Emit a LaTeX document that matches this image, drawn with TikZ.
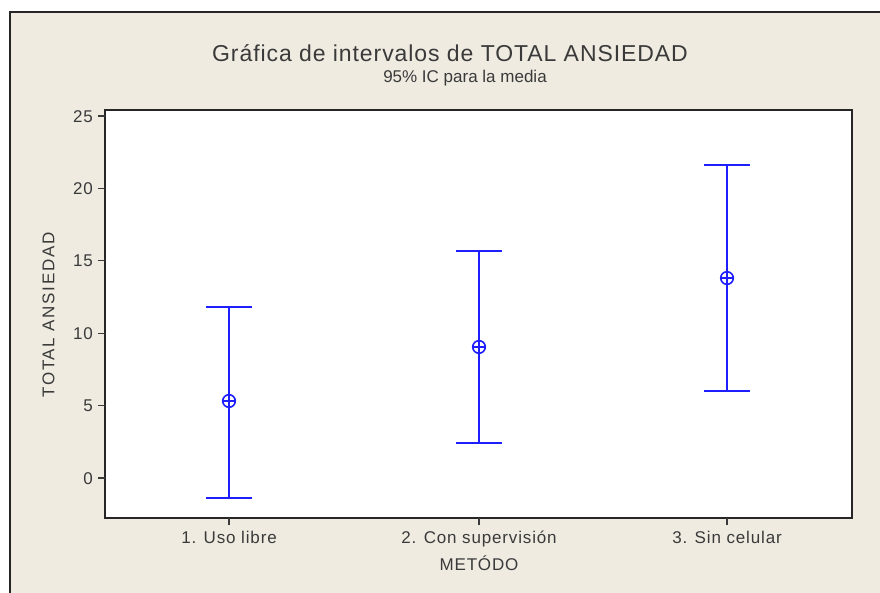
\documentclass[tikz,border=0pt]{standalone}
\usepackage{fontspec}
\setmainfont[LetterSpace=5]{Liberation Sans}
\newfontfamily\titlefont[LetterSpace=4]{Liberation Sans}
\newfontfamily\plainfont{Liberation Sans}
\newfontfamily\ylabfont[LetterSpace=10]{Liberation Sans}
\definecolor{bgbeige}{HTML}{EFEBE1}
\definecolor{txtgray}{HTML}{3A3A3A}
\definecolor{ciblue}{HTML}{1E1EFF}
\begin{document}
\begin{tikzpicture}[x=1pt,y=-1pt,
  lbl/.style={text=txtgray,font=\fontsize{17}{19}\selectfont,inner sep=0pt,text height=12.5pt,text depth=3.5pt},
  cibar/.style={ciblue,line width=1.8pt},
  tickmark/.style={txtgray,line width=1.2pt}]
\useasboundingbox (0,0) rectangle (880,592);
\clip (0,0) rectangle (880,592);
\fill[white] (0,0) rectangle (880,592);
\draw[fill=bgbeige,line width=1.3pt,draw=black!85] (10,12) rectangle (920,640);
% titles
\node[text=txtgray,font=\titlefont\fontsize{23}{26}\selectfont,inner sep=0pt] (title) at (450,53) {Gráfica de intervalos de TOTAL ANSIEDAD};
\node[lbl,font=\plainfont\fontsize{17}{19}\selectfont] (subtitle) at (465,78) {95\% IC para la media};
% plot box
\draw[fill=white,line width=1.4pt,draw=black!85] (105,110) rectangle (852,518);
% y axis
\begin{scope}[shift={(0,478)},y=14.48pt]
  \foreach \v in {0,5,...,25}{
    \draw[tickmark] (98,\v) -- (105,\v);
    \node[lbl,anchor=east,text height=12pt,text depth=0pt] (yl\v) at (93,\v) {\v};
  }
  % intervals
  \foreach \n/\xx/\lo/\m/\hi in {a/229/-1.38/5.32/11.81, b/479/2.42/9.05/15.68, c/727/6.01/13.81/21.62}{
    \coordinate (lo\n) at (\xx,\lo);
    \coordinate (hi\n) at (\xx,\hi);
    \coordinate (m\n) at (\xx,\m);
    \draw[cibar] (lo\n) -- (hi\n);
    \draw[cibar] ([xshift=-23pt]lo\n) -- ([xshift=23pt]lo\n);
    \draw[cibar] ([xshift=-23pt]hi\n) -- ([xshift=23pt]hi\n);
    \draw[ciblue,line width=1.6pt] (m\n) circle[radius=6.3pt];
    \draw[ciblue,line width=1.4pt] ([xshift=-6.3pt]m\n) -- ([xshift=6.3pt]m\n);
  }
\end{scope}
% x axis ticks and labels
\foreach \xx/\t [count=\i] in {229/1. Uso libre, 479/2. Con supervisión, 727/3. Sin celular}{
  \draw[tickmark] (\xx,518) -- (\xx,525);
  \node[lbl] (xl\i) at (\xx,539) {\t};
}
\node[lbl] (xtitle) at (479,566) {METÓDO};
\node[lbl,font=\ylabfont\fontsize{17}{19}\selectfont,rotate=90,text height=12.5pt,text depth=0pt] (ytitle) at (48,315) {TOTAL ANSIEDAD};
\end{tikzpicture}
\end{document}
